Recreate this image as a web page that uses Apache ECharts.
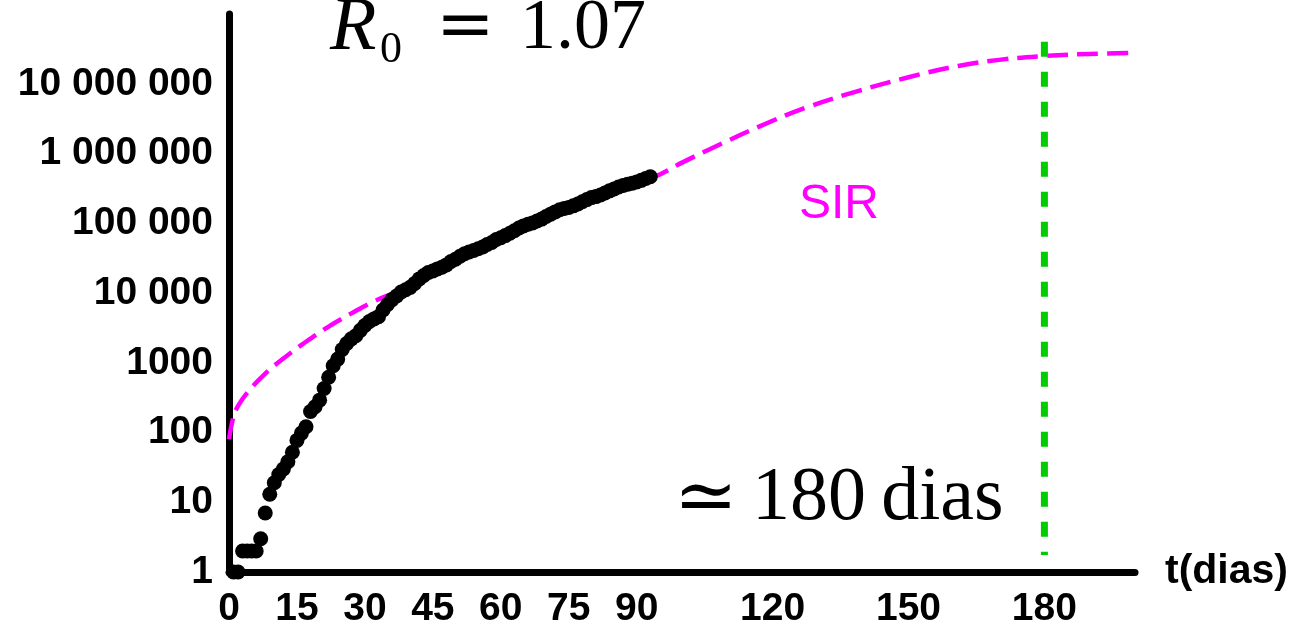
<!DOCTYPE html>
<html>
<head>
<meta charset="utf-8">
<script src="https://cdn.jsdelivr.net/npm/echarts@6/dist/echarts.min.js"></script>
<style>
html,body{margin:0;padding:0;background:#fff;}
#c{width:1297px;height:629px;}
</style>
</head>
<body>
<div id="c"></div>
<script>
// Observed cases (black dots): day, cumulative cases
const days = [1,2,3,4,5,6,7,8,9,10,11,12,13,14,15,16,17,18,19,20,21,22,23,24,25,26,27,28,29,30,31,32,33,34,35,36,37,38,39,40,41,42,43,44,45,46,47,48,49,50,51,52,53,54,55,56,57,58,59,60,61,62,63,64,65,66,67,68,69,70,71,72,73,74,75,76,77,78,79,80,81,82,83,84,85,86,87,88,89,90,91,92,93];
const cases = [1,1,2,2,2,2,3,7,13,19,25,30,38,52,77,98,121,200,234,291,428,621,904,1128,1546,1891,2201,2433,2915,3417,3904,4256,4579,5717,6836,8044,9056,10360,11130,12056,13717,15927,17857,19638,20727,22169,23430,25262,28320,30425,33682,36599,38654,40581,43079,45757,49492,52995,58509,61888,66501,71886,78162,85380,91589,96559,101147,107780,114715,125218,135106,145328,155939,162699,168331,177589,188974,202918,218223,233142,241080,254220,271628,291579,310087,330890,347398,363211,374898,391222,411821,438238,465166];
// SIR model curve (magenta dashed)
const sirDays = [0,1,2,4,8,12,17,22,27,32,37,40,45,50,55,60,65,70,75,80,85,90,94,100,106,117,128,139,150,161,170,180,190,200];
const sirValues = [80,170,240,370,700,1150,2000,3300,5100,7600,10300,12500,20000,30000,43000,62000,90000,128000,175000,235000,310000,395000,465000,740000,1140000,2430000,4700000,7900000,12400000,18000000,22000000,25000000,26800000,27700000];
// Vertical marker at ~180 days
const markerDay = 180;
const markerRange = [40000000, 1.75];
// Tick labels
const xTickLabels = [0,15,30,45,60,75,90,120,150,180];
const yTickValues = [1,10,100,1000,10000,100000,1000000,10000000];

const chart = echarts.init(document.getElementById('c'), null, {renderer:'canvas'});

function fmtY(v){
  if (yTickValues.indexOf(v) < 0) return '';
  if (v < 10000) return String(v);
  return String(v).replace(/\B(?=(\d{3})+(?!\d))/g, ' ');
}

const labelFont = {fontFamily:'Liberation Sans, Arial, sans-serif', fontWeight:'bold', fontSize:39, color:'#000'};

const option = {
  animation:false,
  backgroundColor:'#fff',
  grid:{left:229, right:162, top:14, bottom:55, containLabel:false},
  xAxis:{
    type:'value', min:0, max:200, interval:15,
    name:'t(dias)', nameLocation:'end', nameGap:30,
    nameTextStyle:{fontFamily:'Liberation Sans, Arial, sans-serif', fontWeight:'bold', fontSize:41, color:'#000', verticalAlign:'middle'},
    axisLine:{show:true, onZero:false, lineStyle:{color:'#000', width:7}},
    axisTick:{show:false},
    splitLine:{show:false},
    axisLabel:Object.assign({margin:18, formatter:function(v){return xTickLabels.indexOf(v)>=0?String(v):'';}, showMaxLabel:false}, labelFont)
  },
  yAxis:{
    type:'log', logBase:10, min:1, max:100000000,
    axisLine:{show:true, lineStyle:{color:'#000', width:7}},
    axisTick:{show:false},
    splitLine:{show:false},
    minorSplitLine:{show:false},
    axisLabel:Object.assign({margin:16, formatter:fmtY}, labelFont)
  },
  series:[
    {
      type:'line', name:'SIR',
      data:sirDays.map((d,i)=>[d, sirValues[i]]),
      smooth:0.4, showSymbol:false, symbol:'none',
      lineStyle:{color:'#ff00ff', width:4.5, type:[21,9]},
      z:2
    },
    {
      type:'scatter', name:'casos',
      data:days.map((d,i)=>[d, cases[i]]),
      symbol:'circle', symbolSize:15,
      itemStyle:{color:'#000', opacity:1},
      z:3
    },
    {
      type:'line', name:'marker',
      data:markerRange.map(v=>[markerDay, v]),
      showSymbol:false, symbol:'none',
      lineStyle:{color:'#00cc00', width:7, type:[15,15]},
      z:4
    }
  ],
  graphic:[
    {type:'text', left:330, top:-9, style:{text:'R', font:'italic 76px "Liberation Serif", "DejaVu Serif", serif', fill:'#000'}},
    {type:'text', left:380, top:28, style:{text:'0', font:'44px "Liberation Serif", "DejaVu Serif", serif', fill:'#000'}},
    {type:'text', left:436, top:-6, style:{text:'=', font:'70px "DejaVu Serif", serif', fill:'#000'}},
    {type:'text', left:520, top:-7, style:{text:'1.07', font:'72px "Liberation Serif", "DejaVu Serif", serif', fill:'#000'}},
    {type:'text', left:674, top:463, style:{text:'\u2243', font:'76px "DejaVu Serif", serif', fill:'#000'}},
    {type:'text', left:752, top:461, style:{text:'180\u2009dias', font:'76px "Liberation Serif", "DejaVu Serif", serif', fill:'#000'}},
    {type:'text', left:799, top:181, style:{text:'SIR', font:'48px "Liberation Sans", Arial, sans-serif', fill:'#ff00ff'}}
  ]
};
chart.setOption(option);
</script>
</body>
</html>
